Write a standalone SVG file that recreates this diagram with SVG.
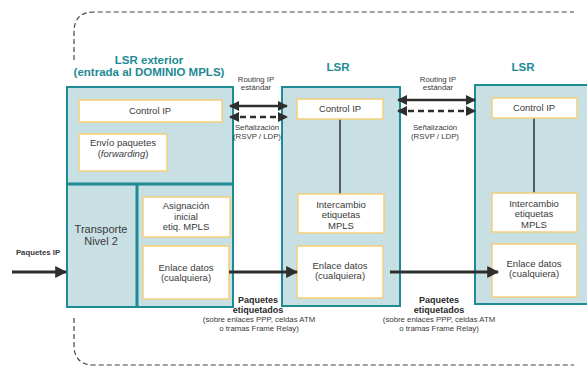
<svg xmlns="http://www.w3.org/2000/svg" width="587" height="367" viewBox="0 0 587 367">
<defs>
<style>
.lsr{fill:#c8dfe4;stroke:#1d8a94;stroke-width:2}
.div{stroke:#1d8a94;stroke-width:3;fill:none}
.wb{fill:#ffffff;stroke:#f2d079;stroke-width:1.5}
.t{font-family:"Liberation Sans",Arial,sans-serif;fill:#3a3a3a;text-anchor:middle}
.bx{font-size:9.5px}
.title{font-family:"Liberation Sans",Arial,sans-serif;font-weight:bold;fill:#1d8a94;text-anchor:middle;font-size:11.5px}
.sm{font-size:7.8px}
.smb{font-size:9px;font-weight:bold;fill:#2a2a2a}
.ln{stroke:#333;stroke-width:1.5;fill:none}
.big{stroke:#2e2e2e;stroke-width:3;fill:none}
.dbl{stroke:#2e2e2e;stroke-width:2.5;fill:none}
.dsh{stroke-dasharray:6 4}
.bnd{stroke:#444;stroke-width:1.2;fill:none;stroke-dasharray:5 3}
</style>
<marker id="ah" viewBox="0 0 10 10" refX="9" refY="5" markerWidth="4" markerHeight="4" orient="auto" markerUnits="strokeWidth">
<path d="M0,0 L10,5 L0,10 Z" fill="#2e2e2e"/>
</marker>
<marker id="ah2" viewBox="0 0 10 10" refX="9" refY="5" markerWidth="4.4" markerHeight="4" orient="auto-start-reverse" markerUnits="strokeWidth">
<path d="M0,0 L10,5 L0,10 Z" fill="#2e2e2e"/>
</marker>
</defs>
<g id="boundary">
<path class="bnd" d="M74,60 L74,32 Q74,12 94,12 L574,12"/>
<path class="bnd" d="M74,318 L74,345 Q74,365 94,365 L574,365"/>
</g>
<g id="lsr-exterior">
<text class="title" x="149" y="64">LSR exterior</text>
<text class="title" x="149" y="76">(entrada al DOMINIO MPLS)</text>
<rect class="lsr" x="67" y="87" width="166" height="220"/>
<line class="div" x1="67" y1="184" x2="233" y2="184"/>
<line class="div" x1="137" y1="184" x2="137" y2="307"/>
<rect class="wb" x="79" y="100" width="143" height="22"/>
<text class="t bx" x="150" y="114">Control IP</text>
<rect class="wb" x="79" y="134" width="88" height="37"/>
<text class="t bx" x="123" y="146">Envío paquetes</text>
<text class="t bx" x="123" y="157">(<tspan font-style="italic">forwarding</tspan>)</text>
<text class="t" font-size="11" x="101" y="233">Transporte</text>
<text class="t" font-size="11" x="101" y="245">Nivel 2</text>
<rect class="wb" x="143" y="197" width="87" height="40"/>
<text class="t bx" x="186" y="209">Asignación</text>
<text class="t bx" x="186" y="219.5">inicial</text>
<text class="t bx" x="186" y="230">etiq. MPLS</text>
<rect class="wb" x="143" y="246" width="86" height="53"/>
<text class="t bx" x="186" y="270.5">Enlace datos</text>
<text class="t bx" x="186" y="281">(cualquiera)</text>
</g>
<g id="lsr-middle">
<text class="title" x="338" y="71">LSR</text>
<rect class="lsr" x="282" y="87" width="118" height="219"/>
<line class="ln" x1="340" y1="119" x2="340" y2="194"/>
<rect class="wb" x="297" y="99" width="86" height="20"/>
<text class="t bx" x="340" y="112">Control IP</text>
<rect class="wb" x="298" y="194" width="86" height="39"/>
<text class="t bx" x="341" y="207.5">Intercambio</text>
<text class="t bx" x="341" y="218">etiquetas</text>
<text class="t bx" x="341" y="228.5">MPLS</text>
<rect class="wb" x="297" y="246" width="86" height="52"/>
<text class="t bx" x="340" y="268.5">Enlace datos</text>
<text class="t bx" x="340" y="279">(cualquiera)</text>
</g>
<g id="lsr-right">
<text class="title" x="523" y="71">LSR</text>
<rect class="lsr" x="475" y="85" width="120" height="219"/>
<line class="ln" x1="534" y1="118" x2="534" y2="193"/>
<rect class="wb" x="492" y="98" width="85" height="20"/>
<text class="t bx" x="534" y="111">Control IP</text>
<rect class="wb" x="492" y="193" width="85" height="39"/>
<text class="t bx" x="534" y="206.5">Intercambio</text>
<text class="t bx" x="534" y="217">etiquetas</text>
<text class="t bx" x="534" y="227.5">MPLS</text>
<rect class="wb" x="492" y="244" width="85" height="53"/>
<text class="t bx" x="534" y="266.5">Enlace datos</text>
<text class="t bx" x="534" y="277">(cualquiera)</text>
</g>
<g id="connectors">
<line class="big" x1="12" y1="272" x2="66" y2="272" marker-end="url(#ah)"/>
<line class="big" x1="229" y1="272" x2="297" y2="272" marker-end="url(#ah)"/>
<line class="big" x1="390" y1="272" x2="498" y2="272" marker-end="url(#ah)"/>
<line class="dbl" x1="230" y1="106" x2="287" y2="106" marker-start="url(#ah2)" marker-end="url(#ah2)"/>
<line class="dbl dsh" x1="230" y1="117" x2="287" y2="117" marker-start="url(#ah2)" marker-end="url(#ah2)"/>
<line class="dbl" x1="398" y1="100" x2="475" y2="100" marker-start="url(#ah2)" marker-end="url(#ah2)"/>
<line class="dbl dsh" x1="398" y1="111" x2="475" y2="111" marker-start="url(#ah2)" marker-end="url(#ah2)"/>
</g>
<g id="labels">
<text class="t sm" x="38" y="255" font-weight="bold">Paquetes IP</text>
<text class="t sm" x="256" y="82">Routing IP</text>
<text class="t sm" x="256" y="90">estándar</text>
<text class="t sm" x="257" y="130">Señalización</text>
<text class="t sm" x="257" y="138.8">(RSVP / LDP)</text>
<text class="t sm" x="438" y="82">Routing IP</text>
<text class="t sm" x="438" y="90">estándar</text>
<text class="t sm" x="435" y="130">Señalización</text>
<text class="t sm" x="435" y="138.8">(RSVP / LDP)</text>
<text class="t smb" x="258" y="303">Paquetes</text>
<text class="t smb" x="258" y="313">etiquetados</text>
<text class="t sm" x="259" y="322">(sobre enlaces PPP, celdas ATM</text>
<text class="t sm" x="259" y="330.8">o tramas Frame Relay)</text>
<text class="t smb" x="439" y="303">Paquetes</text>
<text class="t smb" x="439" y="313">etiquetados</text>
<text class="t sm" x="439" y="322">(sobre enlaces PPP, celdas ATM</text>
<text class="t sm" x="439" y="330.8">o tramas Frame Relay)</text>
</g>
</svg>
